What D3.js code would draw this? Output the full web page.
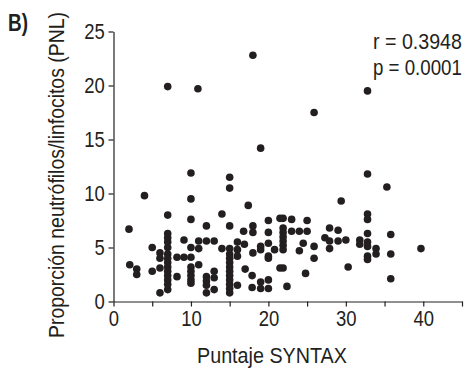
<!DOCTYPE html>
<html><head><meta charset="utf-8">
<script src="https://cdn.jsdelivr.net/npm/d3@7"></script>
<style>
html,body{margin:0;padding:0;background:#fff;}
svg{display:block;font-family:"Liberation Sans",Arial,sans-serif;}
</style></head>
<body>
<svg id="chart" width="470" height="372"></svg>
<script>
const syntaxScore = [7,10.9,18.0,19.0,25.9,32.8,32.8,35.3,29.4,10.0,15.0,15.0,4.0,10.0,17.4,
 2.0,2.1,3.0,3.0,5.0,5.0,6.0,6.0,6.0,6.0,
 7,7,7,7,7,7,7,7,7,7,7,7,7,7,
 8.2,8.2,9.1,9.1,
 10,10,10,10,10,10,10,10,
 11.0,11.0,11.0,
 12,12,12,12,12,12,
 13,13,13,13,
 14.0,14.0,
 15,15,15,15,15,15,15,15,15,15,15,15,
 16,16,16,16,
 16.8,16.9,17.0,17.9,17.9,18.0,18.0,18.0,19.0,19.0,19.0,19.0,
 20,20,20,20,20,20,20,
 20.8,21.5,21.5,
 21.9,21.9,21.9,21.9,21.9,21.9,21.9,21.9,
 22.4,23.0,23.0,24.0,24.0,24.5,24.8,25.0,25.0,25.9,25.9,
 27.3,27.9,27.9,27.9,29.0,29.0,30.0,30.3,
 31.8,31.8,32.8,32.8,32.8,32.8,32.8,32.8,32.8,33.9,33.9,35.8,35.8,35.8,39.7];
const plrRatio = [19.9,19.7,22.8,14.2,17.5,19.5,11.8,10.6,9.3,11.9,11.5,10.5,9.8,9.5,8.9,
 6.7,3.4,3.0,2.5,5.0,2.8,4.5,4.0,3.1,0.8,
 8.0,6.3,5.9,5.5,5.0,4.4,4.0,3.6,3.2,2.8,2.4,2.0,1.6,1.1,
 4.1,2.3,5.7,4.1,
 7.6,5.0,4.1,3.2,2.8,2.4,2.0,1.7,
 5.6,4.9,3.4,
 7.0,5.6,2.3,1.9,1.5,0.8,
 5.6,2.8,2.2,1.1,
 8.1,4.9,
 7.0,4.9,4.4,4.0,3.6,3.2,2.8,2.4,2.0,1.6,1.2,0.8,
 5.5,4.8,4.2,1.5,
 6.5,5.3,3.0,2.4,1.3,7.0,6.4,4.5,5.1,4.8,1.8,1.2,
 7.5,6.4,5.4,4.2,4.0,2.0,1.2,
 4.8,7.7,3.1,
 7.7,6.8,6.4,6.0,5.6,5.2,4.8,3.1,
 1.4,7.6,6.5,6.5,4.7,5.4,2.6,7.5,6.5,5.1,4.0,
 5.9,6.8,5.6,4.9,6.6,5.6,5.7,3.2,
 5.7,5.3,8.1,7.6,6.3,5.5,5.1,4.2,3.9,4.9,4.4,6.2,4.4,2.1,4.9];
const xTicks = [0,5,10,15,20,25,30,35,40,45];
const xTickLabels = ["0","","10","","20","","30","","40",""];
const yTicks = [0,5,10,15,20,25];
const yTickLabels = ["0","5","10","15","20","25"];
const statsLines = ["r = 0.3948","p = 0.0001"];

const ink = "#231f20";
const svg = d3.select("#chart");
const x = d3.scaleLinear().domain([0,45]).range([113.5,462]);
const y = d3.scaleLinear().domain([0,25]).range([301.5,31.5]);

const xAxis = svg.append("g").attr("transform","translate(0,301.5)")
  .call(d3.axisBottom(x).tickValues(xTicks).tickFormat((d,i)=>xTickLabels[i]).tickSize(5).tickSizeOuter(0).tickPadding(4));
const yAxis = svg.append("g").attr("transform","translate(113.5,0)")
  .call(d3.axisLeft(y).tickValues(yTicks).tickFormat((d,i)=>yTickLabels[i]).tickSize(5).tickSizeOuter(0).tickPadding(4));
[xAxis,yAxis].forEach(g=>{
  g.selectAll("path,line").attr("stroke",ink).attr("stroke-width",1.2);
  g.selectAll("text").attr("fill",ink).style("font-size","22px").style("font-family","inherit");
});
xAxis.selectAll("text").attr("transform","scale(0.84,1)");
yAxis.selectAll("text").attr("x",-10.5).attr("transform","scale(0.84,1)");

svg.append("g").selectAll("circle").data(syntaxScore.map((v,i)=>[v,plrRatio[i]])).join("circle")
  .attr("cx",d=>x(d[0])).attr("cy",d=>y(d[1])).attr("r",3.8).attr("fill",ink);

// place a text at (tx,ty) [optionally rotated], squeezed horizontally to a target width
function fitText(str, tx, ty, rot, width, size, bold){
  const t = svg.append("text").attr("x",0).attr("y",0).style("font-size",size+"px")
    .style("font-weight",bold?"bold":"normal").attr("fill",ink).text(str);
  const s = width / t.node().getComputedTextLength();
  t.attr("transform",`translate(${tx},${ty}) rotate(${rot}) scale(${s},1)`);
  return t;
}
fitText("Puntaje SYNTAX",197,363,0,150,22,false);
fitText("Proporción neutrófilos/linfocitos (PNL)",64,338,-90,326,22,false);
fitText("B)",8,31,0,20,23,true);
statsLines.forEach((t,i)=>fitText(t,373,49+i*26,0,89,22,false));
</script>
</body></html>
